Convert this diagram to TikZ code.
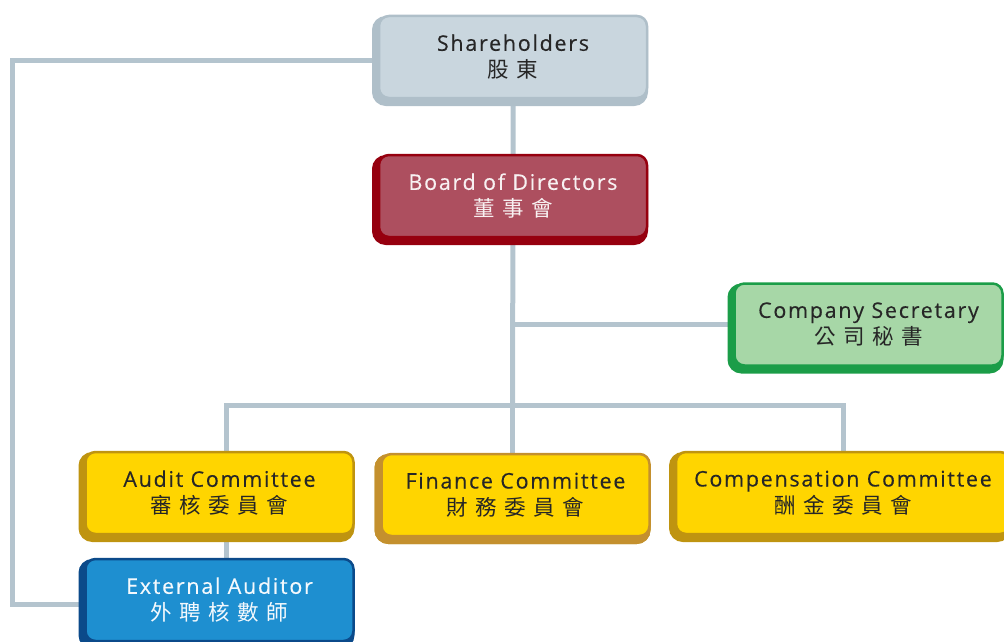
\documentclass[tikz,border=0pt]{standalone}
\usepackage{fontspec}
\setmainfont{Open Sans}[LetterSpace=8,FakeBold=0.3]
\newfontfamily\cjk{Noto Sans CJK TC}[LetterSpace=35]
\usetikzlibrary{shadows,backgrounds}

\definecolor{sharefill}{HTML}{C9D6DE}
\definecolor{shareedge}{HTML}{AFBFC9}
\definecolor{boardfill}{HTML}{AD4F5F}
\definecolor{boardedge}{HTML}{96000F}
\definecolor{secfill}{HTML}{A7D7A7}
\definecolor{secedge}{HTML}{1B9D48}
\definecolor{comfill}{HTML}{FFD500}
\definecolor{comedge}{HTML}{BF9410}
\definecolor{finedge}{HTML}{C4902E}
\definecolor{extfill}{HTML}{1E8FD0}
\definecolor{extedge}{HTML}{0B4A8A}
\definecolor{linecol}{HTML}{B4C4CE}
\definecolor{darktext}{HTML}{262626}

\begin{document}
\begin{tikzpicture}[x=1pt,y=-1pt]
    \tikzstyle{every node}=[rectangle, rounded corners=10pt, line width=2.5pt, minimum width=268pt, minimum height=82pt, align=center, font=\fontsize{21.5}{27}\selectfont]
    \tikzstyle{share}=[fill=sharefill, draw=shareedge, text=darktext, general shadow={fill=shareedge, draw=shareedge, line width=8pt, shadow xshift=-3pt, shadow yshift=-4pt}]
    \tikzstyle{board}=[fill=boardfill, draw=boardedge, text=white!92!boardfill, general shadow={fill=boardedge, draw=boardedge, line width=8pt, shadow xshift=-3pt, shadow yshift=-4pt}]
    \tikzstyle{sec}=[fill=secfill, draw=secedge, text=darktext, general shadow={fill=secedge, draw=secedge, line width=8pt, shadow xshift=-3pt, shadow yshift=-4pt}]
    \tikzstyle{committee}=[fill=comfill, draw=comedge, text=darktext, general shadow={fill=comedge, draw=comedge, line width=8pt, shadow xshift=-3pt, shadow yshift=-4pt}]
    \tikzstyle{ext}=[fill=extfill, draw=extedge, text=white!95!extfill, general shadow={fill=extedge, draw=extedge, line width=8pt, shadow xshift=-3pt, shadow yshift=-4pt}]

    \useasboundingbox (0,0) rectangle (1004,642);

    \node[share] (share) at (513,57) {Shareholders\\{\cjk 股東}};
    \node[board] (board) at (513,196) {Board of Directors\\{\cjk 董事會}};
    \node[sec] (sec) at (868.5,324.5) {Company Secretary\\{\cjk 公司秘書}};
    \node[committee] (audit) at (219.5,493) {Audit Committee\\{\cjk 審核委員會}};
    \node[committee, draw=finedge, general shadow={fill=finedge, draw=finedge, line width=8pt, shadow xshift=-3pt, shadow yshift=-4pt}] (finance) at (515.5,495) {Finance Committee\\{\cjk 財務委員會}};
    \node[committee, minimum width=334pt] (comp) at (843,493) {Compensation Committee\\{\cjk 酬金委員會}};
    \node[ext] (ext) at (219.5,600) {External Auditor\\{\cjk 外聘核數師}};

    \coordinate (bus) at (512.5,405);
    \coordinate (busL) at (226,405);
    \coordinate (busR) at (843,405);
    \coordinate (left) at (12.5,604);

    \tikzstyle{edge}=[linecol, line width=5pt]
    \begin{scope}[on background layer]
        \draw[edge] (share) -- (board) -- (bus);
        \draw[edge] (board |- sec) -- (sec);
        \draw[edge] (busL |- audit) -- (busL) -- (busR) -- (comp);
        \draw[edge] (bus) -- (bus |- finance);
        \draw[edge] (busL) -- (busL |- ext);
        \draw[edge] ([yshift=-4pt]share.center) -| (left) -- ([yshift=-4pt]ext.center);
    \end{scope}
\end{tikzpicture}
\end{document}
